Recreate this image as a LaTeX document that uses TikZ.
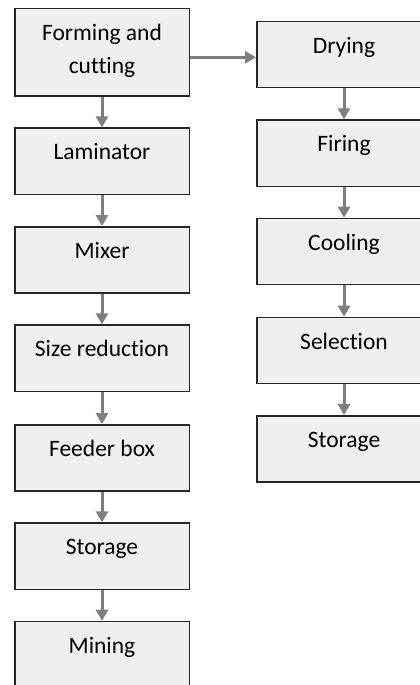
\documentclass[tikz,border=0pt]{standalone}
\usepackage{fontspec}
\setmainfont{Carlito}[Ligatures=NoCommon]
\usetikzlibrary{arrows.meta}
\definecolor{boxfill}{RGB}{239,239,239}
\definecolor{boxline}{RGB}{38,38,38}
\definecolor{arrgray}{RGB}{127,127,127}
\begin{document}
\begin{tikzpicture}[x=1pt,y=-1pt,
  stagebox/.style={draw=boxline, line width=1.5pt, fill=boxfill, anchor=north west,
    minimum width=174.5pt, inner xsep=0pt, inner ysep=0pt, align=center,
    font=\fontsize{23.5}{33}\selectfont, text height=31.7pt, text depth=34.5pt},
  flow/.style={draw=arrgray, line width=3pt, -{Triangle[width=12pt,length=11pt]}}]
\clip (0,0) rectangle (420,685);
\fill[white] (0,0) rectangle (420,685);
% left column
\node[stagebox, text height=64.3pt, text depth=22.7pt] (fc) at (14,8) {Forming and\\cutting};
\node[stagebox] (lam) at (14,127.3) {Laminator};
\node[stagebox] (mix) at (14,226) {Mixer};
\node[stagebox] (size) at (14,324.3) {Size reduction};
\node[stagebox] (feed) at (14,424) {Feeder box};
\node[stagebox] (stl) at (14,522.3) {Storage};
\node[stagebox] (mine) at (14,620.7) {Mining};
% right column
\node[stagebox] (dry) at (256,20.7) {Drying};
\node[stagebox] (fire) at (256,119.3) {Firing};
\node[stagebox] (cool) at (256,217.7) {Cooling};
\node[stagebox] (sel) at (256,316.7) {Selection};
\node[stagebox] (str) at (256,415) {Storage};
% connectors
\draw[flow] (fc) -- (lam);
\draw[flow] (lam) -- (mix);
\draw[flow] (mix) -- (size);
\draw[flow] (size) -- (feed);
\draw[flow] (feed) -- (stl);
\draw[flow] (stl) -- (mine);
\coordinate (hy) at (0,57.3);
\draw[flow] (fc.east |- hy) -- (dry.west |- hy);
\draw[flow] (dry) -- (fire);
\draw[flow] (fire) -- (cool);
\draw[flow] (cool) -- (sel);
\draw[flow] (sel) -- (str);
\end{tikzpicture}
\end{document}
